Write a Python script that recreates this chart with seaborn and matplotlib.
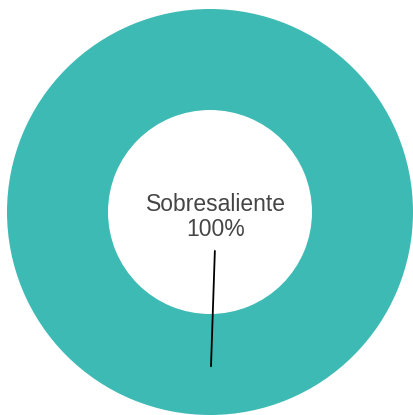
import numpy as np
import matplotlib
matplotlib.use("Agg")
import matplotlib.pyplot as plt
import seaborn as sns

# data
categories = ["Sobresaliente"]
shares = [100]
colors = ["#3dbab3"]

sns.set_style("white")
plt.rcParams['font.family'] = ['Liberation Sans', 'DejaVu Sans']

fig = plt.figure(figsize=(4.13, 4.15), dpi=100)
ax = fig.add_axes([0, 0, 1, 1])

center = (210, 203)
radius = 203
wedges, _ = ax.pie(shares, colors=colors, radius=radius, center=center,
                   startangle=90, counterclock=False, frame=True,
                   wedgeprops=dict(width=101, linewidth=0))
ax.set_xlim(0, 413)
ax.set_ylim(0, 415)
ax.set_aspect("equal")
ax.axis("off")

# label with leader line from the slice mid-angle
for w, cat, val in zip(wedges, categories, shares):
    mid = np.deg2rad((w.theta1 + w.theta2) / 2)
    px = center[0] + 0.76 * radius * np.cos(mid)
    py = center[1] + 0.76 * radius * np.sin(mid)
    ax.annotate(f"{cat}\n{val}%", xy=(px + 1, py), xytext=(216, 198),
                ha="center", va="center", fontsize=16.5, color="#454545",
                linespacing=1.08,
                arrowprops=dict(arrowstyle="-", color="black", lw=1.3,
                                shrinkA=5, shrinkB=0))

fig.savefig("out.png", dpi=100)
